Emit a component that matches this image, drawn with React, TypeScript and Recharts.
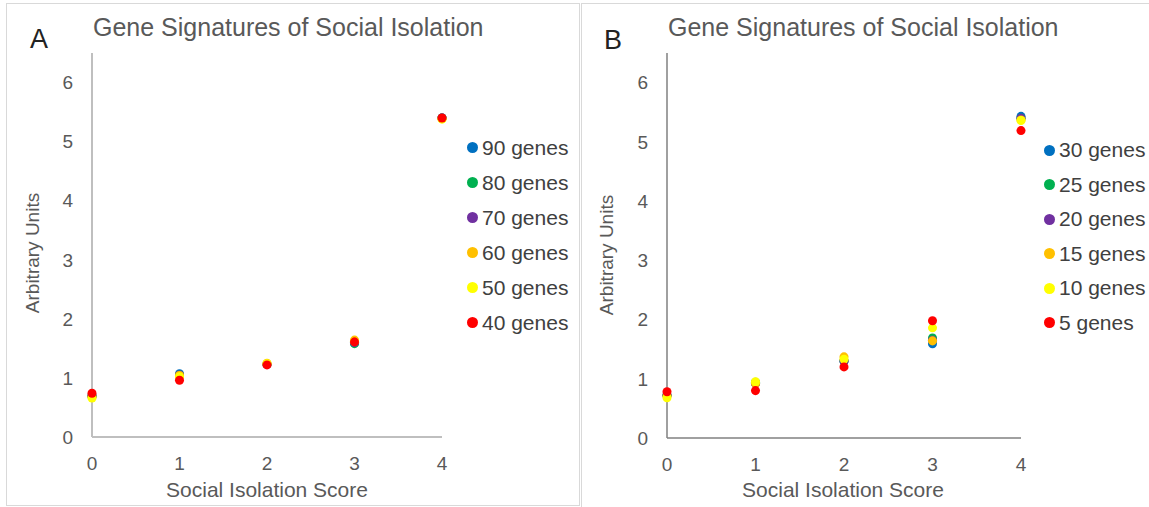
import React from "react";
import { ScatterChart, Scatter, XAxis, YAxis, ZAxis, Legend } from "recharts";

// x categories (social isolation score) and axis ticks
const scores = [0, 1, 2, 3, 4];
const yTicks = [0, 1, 2, 3, 4, 5, 6];

// Panel A series (arbitrary units per score)
const namesA = ["90 genes", "80 genes", "70 genes", "60 genes", "50 genes", "40 genes"];
const a90 = [0.7, 1.07, 1.23, 1.6, 5.4];
const a80 = [0.69, 1.05, 1.23, 1.58, 5.4];
const a70 = [0.69, 1.05, 1.23, 1.6, 5.4];
const a60 = [0.68, 1.04, 1.25, 1.64, 5.39];
const a50 = [0.66, 1.02, 1.24, 1.62, 5.38];
const a40 = [0.74, 0.96, 1.22, 1.61, 5.4];

// Panel B series
const namesB = ["30 genes", "25 genes", "20 genes", "15 genes", "10 genes", "5 genes"];
const b30 = [0.72, 0.92, 1.3, 1.59, 5.43];
const b25 = [0.72, 0.94, 1.3, 1.69, 5.4];
const b20 = [0.72, 0.92, 1.3, 1.65, 5.4];
const b15 = [0.71, 0.92, 1.37, 1.64, 5.37];
const b10 = [0.68, 0.95, 1.33, 1.86, 5.36];
const b5 = [0.78, 0.8, 1.2, 1.98, 5.19];

const colors = ["#0070C0", "#00B050", "#7030A0", "#FFC000", "#FFFF00", "#FF0000"];

const FONT = '"Liberation Sans", Arial, sans-serif';

const toPoints = (vals: number[]) => scores.map((x, i) => ({ x, y: vals[i] }));

// keep legend rows in series order (recharts sorts by value otherwise)
function renderLegend(rowH: number, names: string[]) {
  return (props: any) => {
    const items = [...(props.payload || [])].sort(
      (a: any, b: any) => names.indexOf(a.value) - names.indexOf(b.value)
    );
    return (
      <div style={{ fontFamily: FONT }}>
        {items.map((e: any) => (
          <div key={e.value} style={{ display: "flex", alignItems: "center", height: rowH, whiteSpace: "nowrap" }}>
            <span
              style={{ width: 11, height: 11, borderRadius: "50%", background: e.color, marginRight: 4, flex: "none" }}
            />
            <span style={{ fontSize: 21, color: "#404040" }}>{e.value}</span>
          </div>
        ))}
      </div>
    );
  };
}

interface PanelProps {
  left: number;
  width: number;
  margin: { top: number; right: number; bottom: number; left: number };
  names: string[];
  series: number[][];
  axisColor: string;
  axisWidth: number;
  legendLeft: number;
  legendTop: number;
  legendRow: number;
}

function Panel(p: PanelProps) {
  return (
    <div style={{ position: "absolute", left: p.left, top: 0 }}>
      <ScatterChart width={p.width} height={507} margin={p.margin}>
        <XAxis
          type="number"
          dataKey="x"
          domain={[0, 4]}
          ticks={scores}
          tickLine={false}
          tickSize={0}
          tickMargin={20}
          axisLine={{ stroke: p.axisColor, strokeWidth: p.axisWidth }}
          tick={{ fill: "#595959", fontSize: 19, fontFamily: FONT }}
          height={40}
        />
        <YAxis
          type="number"
          dataKey="y"
          domain={[0, 6.5]}
          ticks={yTicks}
          tickLine={false}
          tickSize={0}
          tickMargin={19}
          axisLine={{ stroke: p.axisColor, strokeWidth: p.axisWidth }}
          tick={{ fill: "#595959", fontSize: 19, fontFamily: FONT }}
          width={60}
        />
        <ZAxis range={[133, 133]} />
        <Legend
          layout="vertical"
          align="center"
          verticalAlign="middle"
          wrapperStyle={{ left: p.legendLeft, top: p.legendTop, width: 140 }}
          content={renderLegend(p.legendRow, p.names)}
        />
        {p.series.map((vals, i) => (
          <Scatter
            key={p.names[i]}
            name={p.names[i]}
            data={toPoints(vals)}
            fill={colors[i]}
            isAnimationActive={false}
          />
        ))}
      </ScatterChart>
    </div>
  );
}

const textBase: React.CSSProperties = {
  position: "absolute",
  fontFamily: FONT,
  whiteSpace: "nowrap",
  lineHeight: "30px",
};

export default function App() {
  return (
    <div style={{ position: "absolute", left: 0, top: 0, width: 1149, height: 507, overflow: "hidden", background: "#fff" }}>
      {/* panel frames */}
      <div style={{ position: "absolute", left: 6, top: 3, width: 572, height: 501, border: "1px solid #d9d9d9" }} />
      <div style={{ position: "absolute", left: 581, top: 3, width: 600, height: 520, border: "1px solid #d9d9d9" }} />

      <Panel
        left={0}
        width={578}
        margin={{ top: 53, right: 136, bottom: 30, left: 32 }}
        names={namesA}
        series={[a90, a80, a70, a60, a50, a40]}
        axisColor="#bfbfbf"
        axisWidth={2}
        legendLeft={467}
        legendTop={130}
        legendRow={35}
      />
      <Panel
        left={580}
        width={569}
        margin={{ top: 53, right: 128, bottom: 29, left: 27 }}
        names={namesB}
        series={[b30, b25, b20, b15, b10, b5]}
        axisColor="#808080"
        axisWidth={1.5}
        legendLeft={464}
        legendTop={133}
        legendRow={34.5}
      />

      {/* titles and axis titles */}
      <div style={{ ...textBase, left: 30, top: 24, fontSize: 27, color: "#222" }}>A</div>
      <div style={{ ...textBase, left: 93, top: 12, fontSize: 25, color: "#595959" }}>
        Gene Signatures of Social Isolation
      </div>
      <div style={{ ...textBase, left: 604, top: 25, fontSize: 27, color: "#222" }}>B</div>
      <div style={{ ...textBase, left: 668, top: 12, fontSize: 25, color: "#595959" }}>
        Gene Signatures of Social Isolation
      </div>

      <div style={{ ...textBase, left: 267, top: 490, fontSize: 21, color: "#595959", transform: "translate(-50%,-50%)" }}>
        Social Isolation Score
      </div>
      <div style={{ ...textBase, left: 843, top: 490, fontSize: 21, color: "#595959", transform: "translate(-50%,-50%)" }}>
        Social Isolation Score
      </div>
      <div
        style={{ ...textBase, left: 33, top: 253, fontSize: 19, color: "#595959", transform: "translate(-50%,-50%) rotate(-90deg)" }}
      >
        Arbitrary Units
      </div>
      <div
        style={{ ...textBase, left: 607, top: 255, fontSize: 19, color: "#595959", transform: "translate(-50%,-50%) rotate(-90deg)" }}
      >
        Arbitrary Units
      </div>
    </div>
  );
}
